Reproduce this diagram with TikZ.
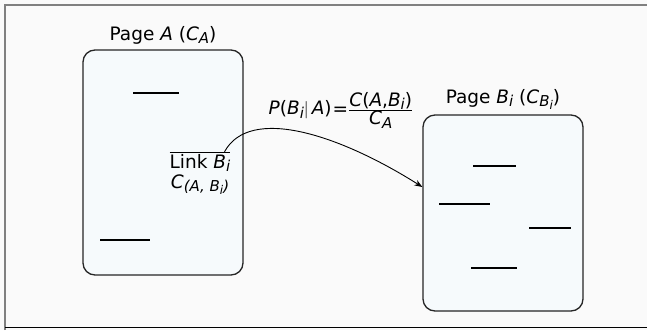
\documentclass[tikz,border=0pt]{standalone}
\usepackage{fontspec}
\setmainfont{DejaVu Sans}
\usetikzlibrary{positioning,arrows.meta}
\definecolor{PaperGray}{RGB}{250,250,250}
\definecolor{PageFill}{RGB}{246,250,252}
\definecolor{FrameGray}{RGB}{128,128,128}
\newcommand{\vi}[1]{\textit{#1}}
% lowered indices, a bit larger than \textsubscript gives
\newcommand{\sbi}[1]{\raisebox{-0.35ex}{\fontsize{15}{15}\selectfont\itshape #1}}
\newcommand{\sbii}[1]{\raisebox{-0.3ex}{\fontsize{12}{12}\selectfont\itshape #1}}

\begin{document}
\begin{tikzpicture}[x=1pt, y=-1pt,
    every node/.style={font=\fontsize{18.5}{22}\selectfont, align=center},
    pagebox/.style={draw=black!85, line width=1.3pt, fill=PageFill, rounded corners=12pt},
    textline/.style={line width=1.2pt}]
  % paper and frame
  \fill[PaperGray] (0,0) rectangle (647,330);
  \useasboundingbox (0,0) rectangle (647,330);
  \draw[FrameGray, line width=1.5pt] (5,330) -- (5,5) -- (647,5);
  \draw[line width=1.5pt] (5,327.5) -- (647,327.5);

  % the two pages
  \node[pagebox, minimum width=160pt, minimum height=225pt] (pageA) at (163,162.5) {};
  \node[pagebox, minimum width=160pt, minimum height=196pt] (pageB) at (503,213) {};
  \node[above=3pt of pageA, inner sep=2pt] (titleA) {Page \vi{A} (\vi{C}\sbi{A})};
  \node[above=3pt of pageB, inner sep=2pt] (titleB) {Page \vi{B}\sbi{i} (\vi{C}\sbi{B\sbii{i}})};

  % text lines on page A
  \draw[textline] (133,93) -- (179,93);
  \draw[textline] (100,240) -- (150,240);
  % text lines on page B
  \draw[textline] (473,166) -- (516,166);
  \draw[textline] (439,204) -- (490,204);
  \draw[textline] (529,228) -- (571,228);
  \draw[textline] (471,268) -- (517,268);

  % the link and its weight
  \node[inner sep=0pt] (linkA) at (200,173)
    {$\overline{\hbox{Link \vi{B}\sbi{i}}}$\\[-2pt]\vi{C}\sbi{(\vi{A}, \vi{B}\sbii{i})}};
  \coordinate (hit) at (pageB.west |- 0,187);
  \draw[-{Stealth[length=8pt,width=6pt]}, line width=0.9pt]
    ([xshift=-6pt]linkA.north east) .. controls (250,105) and (340,135) .. (hit);

  % transition probability
  \node (prob) at (341,110)
    {\vi{P}(\vi{B}\sbi{i}$|$\,\vi{A})\kern1pt\raisebox{-1pt}{=}$\frac{\hbox{\vi{C}(\vi{A},\vi{B}\sbi{i})}}{\hbox{\vi{C}\sbi{A}}}$};
\end{tikzpicture}
\end{document}
